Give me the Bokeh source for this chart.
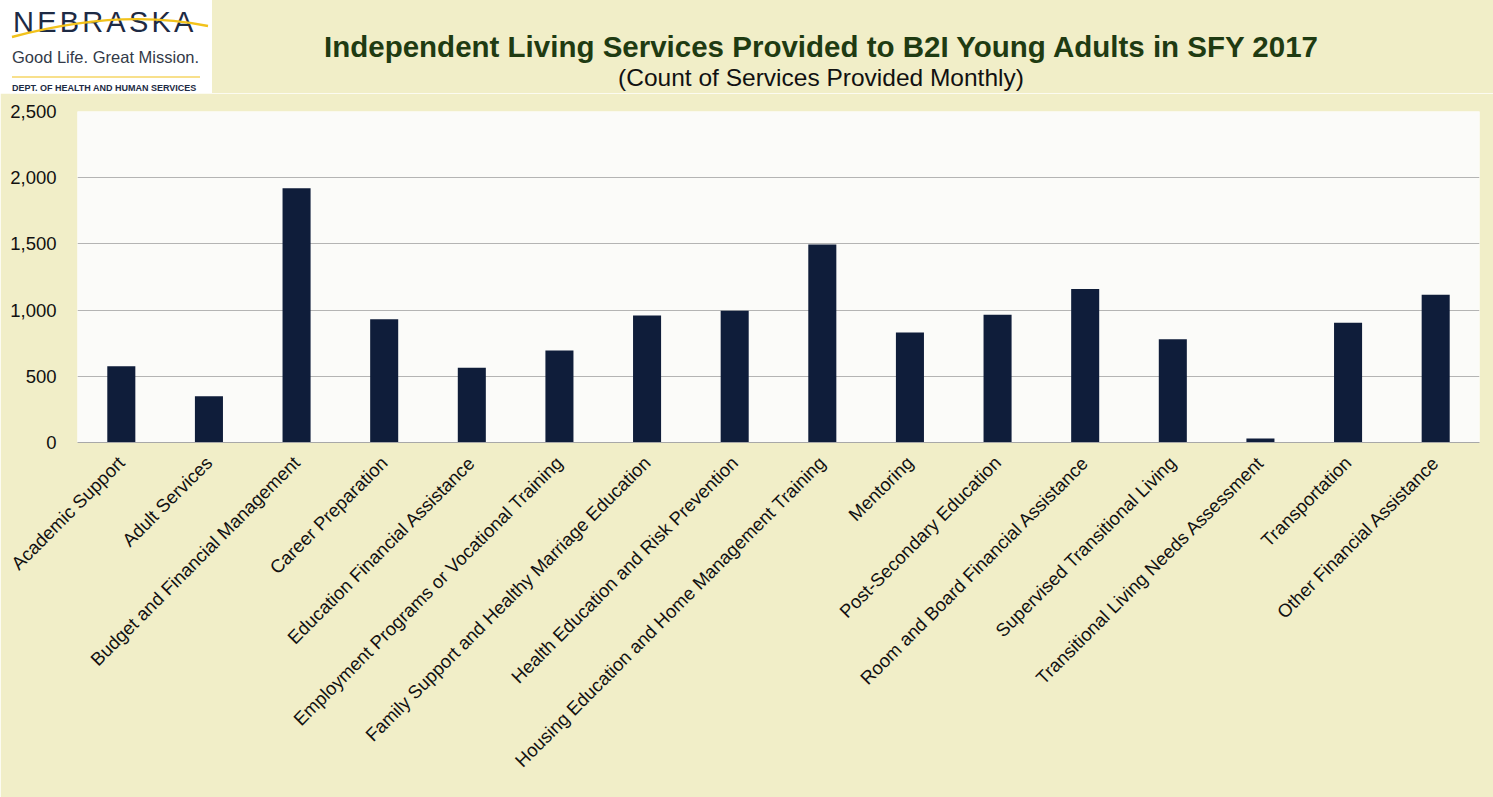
import math
from bokeh.plotting import figure
from bokeh.layouts import column
from bokeh.models import Range1d, FactorRange, NumeralTickFormatter, FixedTicker, Div
from bokeh.embed import file_html
from bokeh.resources import INLINE

categories = [
    "Academic Support", "Adult Services", "Budget and Financial Management",
    "Career Preparation", "Education Financial Assistance",
    "Employment Programs or Vocational Training",
    "Family Support and Healthy Marriage Education",
    "Health Education and Risk Prevention",
    "Housing Education and Home Management Training", "Mentoring",
    "Post-Secondary Education", "Room and Board Financial Assistance",
    "Supervised Transitional Living", "Transitional Living Needs Assessment",
    "Transportation", "Other Financial Assistance",
]
counts = [575, 350, 1920, 930, 565, 695, 960, 995, 1495, 830, 965, 1160, 780, 30, 905, 1115]
y_ticks = [0, 500, 1000, 1500, 2000, 2500]

title_text = "Independent Living Services Provided to B2I Young Adults in SFY 2017"
subtitle_text = "(Count of Services Provided Monthly)"
logo_word = "NEBRASKA"
logo_tagline = "Good Life. Great Mission."
logo_dept = "DEPT. OF HEALTH AND HUMAN SERVICES"

BG = "#f1eec8"
FONT = "Liberation Sans"
W, H = 1493, 797
HH = 93
FL, FR, FT, FB = 77, 1479, 111, 442   # frame edges in page pixels

# ---------- header (logo + titles) as inline SVG text ----------
header_svg = f"""
<svg xmlns="http://www.w3.org/2000/svg" width="{W}" height="{HH}" style="display:block">
  <rect x="0" y="0" width="{W}" height="{HH}" fill="{BG}"/>
  <rect x="0" y="0" width="212" height="93" fill="#ffffff"/>
  <text x="13" y="32" font-family="Lato" font-size="29" letter-spacing="3.2"
        fill="#1d2a44">{logo_word}</text>
  <path d="M12,37 Q120,8 208,26" stroke="#f2c21b" stroke-width="2.4" fill="none"/>
  <text x="12" y="63" font-family="Lato" font-size="16.5" fill="#333a48">{logo_tagline}</text>
  <line x1="12" y1="77" x2="200" y2="77" stroke="#f2c21b" stroke-width="1.2"/>
  <text x="12" y="90.5" font-family="{FONT}" font-size="9" font-weight="bold"
        fill="#1d2a44">{logo_dept}</text>
  <text x="821" y="56.5" text-anchor="middle" font-family="{FONT}" font-size="29.5"
        font-weight="bold" fill="#1f3b12">{title_text}</text>
  <text x="821" y="86" text-anchor="middle" font-family="{FONT}" font-size="24.5"
        fill="#111111">{subtitle_text}</text>
</svg>
"""
header = Div(text=header_svg, width=W, height=HH, margin=0,
             styles={"background-color": BG, "overflow": "hidden"})

# ---------- main chart ----------
p = figure(width=W, height=H - HH, x_range=FactorRange(*categories),
           y_range=Range1d(0, 2500), output_backend="svg", toolbar_location=None,
           min_border_left=FL, min_border_right=W - FR, min_border_top=FT - HH,
           min_border_bottom=H - FB)
p.vbar(x=categories, top=counts, width=0.32, fill_color="#0f1d3a", line_color=None)

p.background_fill_color = "#fbfbf9"
p.border_fill_color = BG
p.outline_line_color = None

p.yaxis.ticker = FixedTicker(ticks=y_ticks)
p.yaxis.formatter = NumeralTickFormatter(format="0,0")
p.yaxis.axis_line_color = None
p.yaxis.major_tick_line_color = None
p.yaxis.minor_tick_line_color = None
p.yaxis.major_label_text_font = FONT
p.yaxis.major_label_text_font_size = "18.5px"
p.yaxis.major_label_text_color = "#111111"
p.yaxis.major_label_standoff = 15

p.xaxis.major_label_orientation = math.pi / 4
p.xaxis.axis_line_color = "#a8a8a8"
p.xaxis.major_tick_line_color = None
p.xaxis.minor_tick_line_color = None
p.xaxis.major_label_text_font = FONT
p.xaxis.major_label_text_font_size = "18.5px"
p.xaxis.major_label_text_color = "#111111"
p.xaxis.major_label_standoff = 11

p.xgrid.grid_line_color = None
p.ygrid.grid_line_color = "#b4b4b4"
p.ygrid.grid_line_width = 1

layout = column(header, p, spacing=0, margin=0)
open("out.html", "w").write(file_html(layout, INLINE))
